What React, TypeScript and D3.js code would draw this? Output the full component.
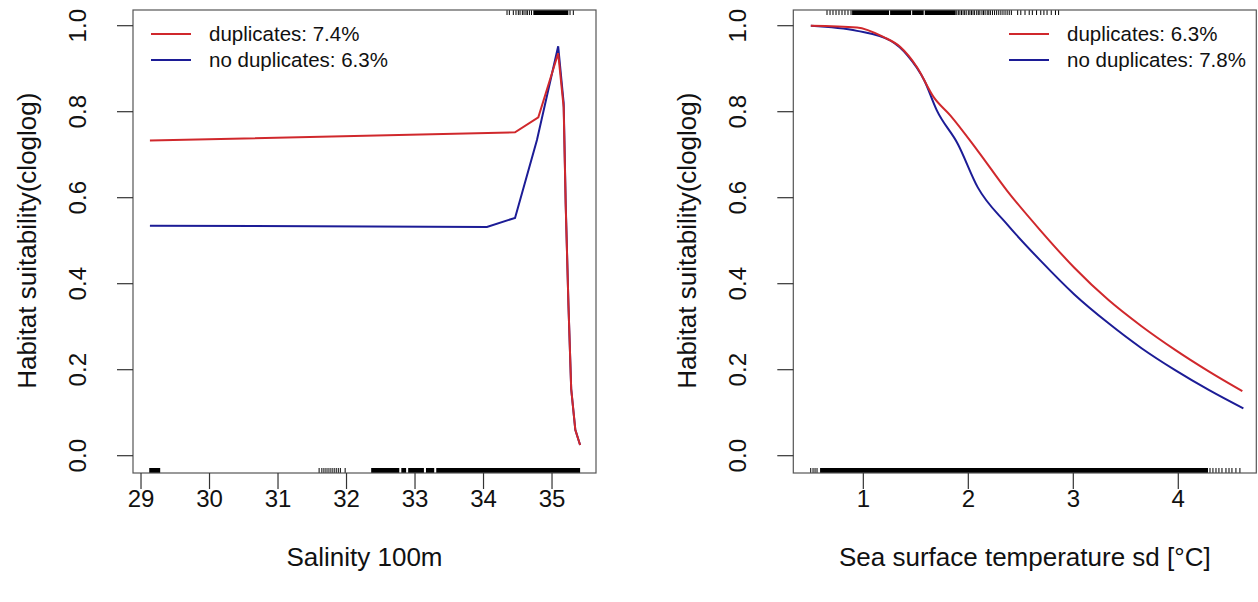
import React from 'react';
import * as d3 from 'd3';

// ---------- data ----------
const yTicks = [0, 0.2, 0.4, 0.6, 0.8, 1.0];

// Panel 1: Salinity 100m
const salTicks = [29, 30, 31, 32, 33, 34, 35];
const salDupX = [29.13, 34.46, 34.8, 35.09, 35.17, 35.2, 35.24, 35.28, 35.34, 35.41];
const salDupY = [0.733, 0.752, 0.787, 0.936, 0.81, 0.58, 0.35, 0.155, 0.06, 0.025];
const salNoDupX = [29.13, 34.05, 34.46, 34.78, 35.09, 35.17, 35.2, 35.24, 35.28, 35.34, 35.41];
const salNoDupY = [0.535, 0.532, 0.553, 0.734, 0.952, 0.82, 0.585, 0.35, 0.155, 0.06, 0.025];
const salBottomRugTicks = [31.6, 31.64, 31.67, 31.7, 31.73, 31.76, 31.79, 31.82, 31.85, 31.88, 31.91, 31.98];
const salBottomRugBlocks = [[29.12, 29.28], [32.36, 32.77], [32.8, 32.87], [32.9, 33.13], [33.16, 33.28], [33.31, 35.41]];
const salTopRugTicks = [34.343, 34.377, 34.435, 34.474, 34.508, 34.533, 34.567, 34.591, 34.62, 34.64, 34.67, 34.7, 35.263, 35.311];
const salTopRugBlocks = [[34.727, 35.238]];

// Panel 2: Sea surface temperature sd
const sstTicks = [1, 2, 3, 4];
const sstDupX = [0.5, 0.94, 1.19, 1.35, 1.51, 1.67, 1.83, 2.09, 2.37, 2.69, 3.01, 3.33, 3.65, 3.97, 4.29, 4.61];
const sstDupY = [1.0, 0.996, 0.974, 0.951, 0.904, 0.834, 0.791, 0.709, 0.616, 0.523, 0.437, 0.363, 0.301, 0.246, 0.196, 0.15];
const sstNoDupX = [0.5, 0.94, 1.26, 1.42, 1.58, 1.7, 1.9, 2.09, 2.37, 2.69, 3.01, 3.33, 3.65, 3.97, 4.29, 4.62];
const sstNoDupY = [1.0, 0.988, 0.965, 0.931, 0.873, 0.803, 0.725, 0.624, 0.538, 0.453, 0.375, 0.309, 0.25, 0.199, 0.153, 0.11];
const sstBottomRugTicks = [0.499, 0.521, 0.54, 0.559, 4.302, 4.33, 4.359, 4.387, 4.416, 4.454, 4.483, 4.511, 4.549, 4.587];
const sstBottomRugBlocks = [[0.588, 4.283]];
const sstTopRugTicks = [0.654, 0.683, 0.711, 0.74, 0.768, 0.797, 0.825, 0.854, 0.883,
  1.89, 1.905, 1.92, 1.935, 1.95, 1.965, 1.98, 2.0, 2.015, 2.03, 2.045, 2.06, 2.08, 2.095, 2.11, 2.13,
  2.145, 2.16, 2.18, 2.195, 2.21, 2.23, 2.25, 2.27, 2.29, 2.31, 2.33, 2.35, 2.37, 2.39, 2.41,
  2.47, 2.5, 2.54, 2.58, 2.61, 2.65, 2.69, 2.72, 2.75, 2.79, 2.83, 2.86];
const sstTopRugBlocks = [[0.893, 1.245], [1.255, 1.455], [1.465, 1.575], [1.585, 1.88]];

const legendDup = ['duplicates: 7.4%', 'duplicates: 6.3%'];
const legendNoDup = ['no duplicates: 6.3%', 'no duplicates: 7.8%'];

const RED = '#d0282c';
const BLUE = '#1c1c96';
const FONT = '"Liberation Sans", Arial, sans-serif';

type PanelProps = {
  left: number;
  xDomain: [number, number];
  xTicks: number[];
  xLabel: string;
  dup: [number[], number[]];
  nodup: [number[], number[]];
  bottomTicks: number[];
  bottomBlocks: number[][];
  topTicks: number[];
  topBlocks: number[][];
  legendX: number;
  legendLabels: [string, string];
  smooth: boolean;
};

function Panel(p: PanelProps) {
  const boxL = p.left, boxR = p.left + 463, boxT = 10, boxB = 473;
  const x = d3.scaleLinear().domain(p.xDomain).range([boxL, boxR]);
  const y = d3.scaleLinear().domain([0, 1]).range([455.7, 25.7]);
  const line = d3.line<[number, number]>()
    .x(d => x(d[0])).y(d => y(d[1]))
    .curve(p.smooth ? d3.curveMonotoneX : d3.curveLinear);
  const dupPts = p.dup[0].map((v, i) => [v, p.dup[1][i]] as [number, number]);
  const nodupPts = p.nodup[0].map((v, i) => [v, p.nodup[1][i]] as [number, number]);
  const rugH = 5;
  const fmt = d3.format('.1f');
  return (
    <g>
      {/* rugs */}
      {p.bottomTicks.map((v, i) => (
        <line key={'bt' + i} x1={x(v)} x2={x(v)} y1={boxB} y2={boxB - rugH} stroke="#000" strokeWidth={1} />
      ))}
      {p.bottomBlocks.map((b, i) => (
        <rect key={'bb' + i} x={x(b[0])} width={x(b[1]) - x(b[0])} y={boxB - rugH} height={rugH} fill="#000" />
      ))}
      {p.topTicks.map((v, i) => (
        <line key={'tt' + i} x1={x(v)} x2={x(v)} y1={boxT} y2={boxT + rugH} stroke="#000" strokeWidth={1} />
      ))}
      {p.topBlocks.map((b, i) => (
        <rect key={'tb' + i} x={x(b[0])} width={x(b[1]) - x(b[0])} y={boxT} height={rugH} fill="#000" />
      ))}
      {/* curves */}
      <path d={line(nodupPts) || ''} fill="none" stroke={BLUE} strokeWidth={2} />
      <path d={line(dupPts) || ''} fill="none" stroke={RED} strokeWidth={2} />
      {/* box */}
      <rect x={boxL} y={boxT} width={boxR - boxL} height={boxB - boxT} fill="none" stroke="#555" strokeWidth={1.2} />
      {/* x axis */}
      {p.xTicks.map(t => (
        <g key={'xt' + t}>
          <line x1={x(t)} x2={x(t)} y1={boxB} y2={boxB + 16} stroke="#333" strokeWidth={1.2} />
          <text x={x(t)} y={507} textAnchor="middle" fontSize={24} fontFamily={FONT} fill="#111">{t}</text>
        </g>
      ))}
      {/* y axis */}
      {yTicks.map(t => (
        <g key={'yt' + t}>
          <line x1={boxL - 16} x2={boxL} y1={y(t)} y2={y(t)} stroke="#333" strokeWidth={1.2} />
          <text transform={`translate(${boxL - 47},${y(t)}) rotate(-90)`} textAnchor="middle" fontSize={24} fontFamily={FONT} fill="#111">{fmt(t)}</text>
        </g>
      ))}
      <text transform={`translate(${boxL - 97},${(y(0) + y(1)) / 2}) rotate(-90)`} textAnchor="middle" fontSize={26} fontFamily={FONT} fill="#111">Habitat suitability(cloglog)</text>
      <text x={(boxL + boxR) / 2} y={566} textAnchor="middle" fontSize={26} fontFamily={FONT} fill="#111">{p.xLabel}</text>
      {/* legend */}
      <line x1={p.legendX} x2={p.legendX + 40} y1={34} y2={34} stroke={RED} strokeWidth={2.2} />
      <text x={p.legendX + 58} y={41} fontSize={20.5} fontFamily={FONT} fill="#111">{p.legendLabels[0]}</text>
      <line x1={p.legendX} x2={p.legendX + 40} y1={60} y2={60} stroke={BLUE} strokeWidth={2.2} />
      <text x={p.legendX + 58} y={67} fontSize={20.5} fontFamily={FONT} fill="#111">{p.legendLabels[1]}</text>
    </g>
  );
}

export default function App() {
  return (
    <svg width={1258} height={602} style={{ position: 'absolute', left: 0, top: 0, background: '#fff' }}>
      <rect x={0} y={0} width={1258} height={602} fill="#fff" />
      <Panel
        left={133}
        xDomain={[28.883, 35.642]}
        xTicks={salTicks}
        xLabel="Salinity 100m"
        dup={[salDupX, salDupY]}
        nodup={[salNoDupX, salNoDupY]}
        bottomTicks={salBottomRugTicks}
        bottomBlocks={salBottomRugBlocks}
        topTicks={salTopRugTicks}
        topBlocks={salTopRugBlocks}
        legendX={151}
        legendLabels={[legendDup[0], legendNoDup[0]]}
        smooth={false}
      />
      <Panel
        left={793.3}
        xDomain={[0.333, 4.743]}
        xTicks={sstTicks}
        xLabel="Sea surface temperature sd [°C]"
        dup={[sstDupX, sstDupY]}
        nodup={[sstNoDupX, sstNoDupY]}
        bottomTicks={sstBottomRugTicks}
        bottomBlocks={sstBottomRugBlocks}
        topTicks={sstTopRugTicks}
        topBlocks={sstTopRugBlocks}
        legendX={1009}
        legendLabels={[legendDup[1], legendNoDup[1]]}
        smooth={true}
      />
    </svg>
  );
}
